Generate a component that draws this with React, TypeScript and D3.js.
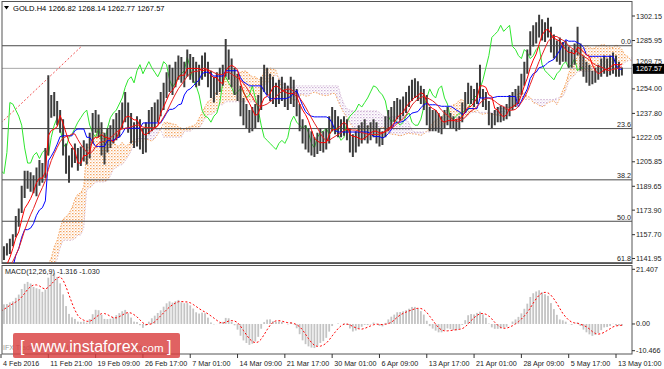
import React from "react";
import * as d3 from "d3";

const W = 664;
const H = 369;

// ---- price data (each bar ~ 2 H4 bars) ----
const priorHighs = [1100,1101,1099,1104,1108,1110,1114,1122,1124,1122,1120,1126,1120,1118,1120,1118,1120,1122,1124,1128,1130,1130,1132,1130,1134,1146];
const priorLows = [1094,1095,1093,1096,1100,1104,1106,1110,1116,1114,1112,1114,1112,1110,1112,1108,1110,1112,1114,1118,1122,1122,1124,1122,1124,1130];
const priorCloses = [1097,1098,1096,1102,1106,1107,1112,1120,1118,1116,1118,1116,1115,1114,1116,1112,1116,1118,1120,1126,1128,1126,1128,1126,1132,1142];

const highs = [
  1146,1150,1152,1155,1158,1170,1175,1190,1200,1200,
  1199,1197,1202,1207,1205,1215,1263,1250,1252,1246,
  1240,1234,1218,1210,1215,1218,1215,1216,1220,1218,
  1225,1238,1240,1237,1232,1225,1228,1230,1234,1238,
  1240,1245,1252,1245,1238,1232,1236,1234,1228,1232,
  1240,1242,1245,1247,1252,1258,1265,1270,1268,1272,
  1276,1275,1272,1280,1277,1275,1272,1270,1276,1278,
  1272,1266,1262,1265,1268,1270,1287,1280,1274,1268,
  1264,1256,1248,1244,1240,1242,1244,1250,1262,1270,
  1268,1264,1262,1258,1260,1262,1258,1256,1262,1260,
  1254,1244,1234,1230,1228,1226,1222,1225,1228,1226,
  1228,1236,1242,1240,1236,1234,1236,1234,1228,1224,
  1226,1230,1232,1234,1230,1232,1234,1232,1228,1226,
  1236,1240,1242,1246,1248,1247,1249,1252,1256,1260,
  1261,1259,1256,1254,1250,1242,1240,1240,1238,1236,
  1240,1242,1238,1236,1234,1236,1245,1252,1258,1256,
  1254,1258,1270,1254,1252,1246,1238,1240,1242,1243,
  1242,1244,1250,1252,1254,1256,1264,1272,1280,1292,
  1296,1298,1303,1300,1298,1301,1295,1290,1286,1288,
  1285,1286,1282,1280,1284,1295,1284,1276,1272,1270,
  1266,1268,1270,1274,1276,1274,1276,1278,1276,1272,1268.14,
];
const lows = [
  1139,1141,1144,1145,1150,1156,1163,1172,1182,1188,
  1186,1185,1183,1190,1192,1195,1210,1235,1236,1230,
  1225,1210,1198,1192,1202,1205,1200,1203,1206,1204,
  1208,1218,1225,1222,1210,1204,1212,1215,1218,1220,
  1222,1228,1232,1225,1218,1215,1216,1214,1211,1212,
  1224,1226,1228,1232,1236,1240,1248,1252,1250,1255,
  1260,1258,1255,1262,1260,1258,1255,1256,1260,1262,
  1255,1248,1245,1250,1252,1256,1262,1260,1255,1250,
  1246,1236,1230,1228,1225,1226,1228,1232,1240,1252,
  1250,1246,1244,1242,1244,1246,1242,1240,1244,1242,
  1236,1226,1218,1214,1212,1210,1209,1211,1213,1212,
  1214,1218,1226,1224,1222,1222,1223,1220,1212,1209,
  1212,1216,1218,1220,1218,1220,1222,1218,1216,1217,
  1222,1226,1228,1232,1234,1233,1236,1238,1242,1246,
  1248,1246,1244,1240,1230,1226,1226,1226,1225,1224,
  1228,1230,1228,1228,1226,1227,1232,1238,1244,1244,
  1242,1244,1248,1242,1240,1230,1228,1230,1232,1232,
  1233,1234,1236,1240,1242,1244,1250,1256,1264,1276,
  1282,1284,1288,1286,1285,1288,1278,1274,1272,1270,
  1272,1272,1268,1268,1270,1276,1266,1262,1258,1256,
  1257,1258,1260,1262,1264,1262,1263,1264,1262,1262,1262.77,
];
const closes = [
  1143,1148,1147,1153,1156,1166,1172,1185,1194,1195,
  1192,1190,1196,1200,1198,1212,1245,1244,1240,1236,
  1230,1215,1205,1205,1210,1212,1208,1212,1214,1210,
  1222,1230,1235,1228,1218,1215,1222,1224,1228,1232,
  1235,1238,1240,1230,1225,1222,1228,1220,1218,1228,
  1235,1238,1240,1244,1248,1255,1260,1262,1258,1266,
  1270,1264,1268,1272,1268,1265,1262,1266,1272,1270,
  1260,1255,1258,1262,1264,1266,1275,1268,1260,1256,
  1250,1240,1236,1235,1232,1236,1238,1245,1258,1262,
  1258,1255,1250,1252,1254,1252,1248,1250,1256,1248,
  1240,1230,1222,1220,1218,1216,1214,1218,1220,1218,
  1222,1232,1236,1232,1230,1228,1230,1225,1218,1215,
  1222,1225,1226,1228,1224,1226,1230,1224,1220,1222,
  1232,1236,1238,1240,1244,1242,1245,1248,1252,1256,
  1255,1252,1250,1246,1236,1232,1234,1232,1230,1232,
  1236,1238,1232,1230,1230,1234,1242,1248,1254,1250,
  1248,1254,1256,1248,1244,1235,1234,1236,1238,1238,
  1240,1240,1246,1248,1250,1254,1260,1268,1276,1288,
  1290,1292,1296,1292,1294,1296,1282,1280,1276,1274,
  1280,1278,1274,1276,1280,1282,1270,1266,1264,1262,
  1260,1264,1266,1270,1272,1268,1270,1274,1266,1268,1267.57,
];

const priceTicks = [1302.15, 1285.95, 1269.75, 1254.0, 1237.8, 1222.05, 1205.85, 1189.65, 1173.9, 1157.7, 1141.95];
const priceTickLabels = ["1302.15", "1285.95", "1269.75", "1254.00", "1237.80", "1222.05", "1205.85", "1189.65", "1173.90", "1157.70", "1141.95"];
const timeLabels = ["4 Feb 2016", "11 Feb 21:00", "19 Feb 09:00", "26 Feb 17:00", "7 Mar 01:00", "14 Mar 09:00", "21 Mar 17:00", "30 Mar 01:00", "6 Apr 09:00", "13 Apr 17:00", "21 Apr 01:00", "28 Apr 09:00", "5 May 17:00", "13 May 01:00"];
const timeLabelBars = [0, 16, 32, 48, 64, 80, 96, 112, 128, 144, 160, 176, 192, 208];
const fibLevels = [0, 23.6, 38.2, 50.0, 61.8];
const fibLabels = ["0.0", "23.6", "38.2", "50.0", "61.8"];
const fibHigh = 1282.5;
const fibLow = 1050.6;
const trendPoints = [{ bar: 0, price: 1231.5 }, { bar: 27, price: 1281.7 }];
const macdTicks = [21.407, 0, -10.466];
const macdTickLabels = ["21.407", "0.00", "-10.466"];
const lastPrice = 1267.57;

const FONT = "'Liberation Sans', Arial, sans-serif";

export default function App() {
  const n = highs.length;
  const P = priorHighs.length;
  const HA = [...priorHighs, ...highs];
  const LA = [...priorLows, ...lows];
  const CA = [...priorCloses, ...closes];
  const N = HA.length;
  const SHIFT = 13;

  const mid = (len: number, g: number) => {
    const s = Math.max(0, g - len + 1);
    const hi = d3.max(HA.slice(s, g + 1)) as number;
    const lo = d3.min(LA.slice(s, g + 1)) as number;
    return (hi + lo) / 2;
  };
  const tenkanAll = d3.range(N).map((g) => mid(5, g));
  const kijunAll = d3.range(N).map((g) => mid(13, g));
  const spanBAll = d3.range(N).map((g) => mid(26, g));
  const maAll = d3.range(N).map((g) => d3.mean(CA.slice(Math.max(0, g - 9), g + 1)) as number);

  // MACD
  const ema = (period: number) => {
    const k = 2 / (period + 1);
    const out: number[] = [];
    CA.forEach((c, i) => out.push(i === 0 ? c : out[i - 1] + k * (c - out[i - 1])));
    return out;
  };
  const e1 = ema(6);
  const e2 = ema(13);
  const macdAll = CA.map((_, i) => e1[i] - e2[i]);
  const sigAll = macdAll.map((_, i) => d3.mean(macdAll.slice(Math.max(0, i - 4), i + 1)) as number);

  const x = d3.scaleLinear().domain([0, 208]).range([1, 616]);
  const y = d3.scaleLinear().domain([1141.95, 1302.15]).range([258.5, 16]);
  const ym = d3.scaleLinear().domain([-10.466, 21.407]).range([350.7, 269.3]);

  const L = 2, R = 632, MT = 1.5, MB = 263.5, DT = 265.5, DB = 354;

  const idx = d3.range(n);
  const line = d3.line<[number, number]>().x((d) => d[0]).y((d) => d[1]);

  const tenkan = line(idx.map((j) => [x(j), y(tenkanAll[j + P])]));
  const kijun = line(idx.map((j) => [x(j), y(kijunAll[j + P])]));
  const ma = line(idx.map((j) => [x(j), y(maAll[j + P])]));
  const chikou = line(d3.range(SHIFT, n).map((k) => [x(k - SHIFT), y(closes[k])]));

  const cloud = d3.range(n + SHIFT).map((j) => {
    const g = j + P - SHIFT;
    return { j, a: (tenkanAll[g] + kijunAll[g]) / 2, b: spanBAll[g] };
  });
  const areaUp = d3
    .area<{ j: number; a: number; b: number }>()
    .defined((d) => d.a >= d.b)
    .x((d) => x(d.j))
    .y0((d) => y(d.b))
    .y1((d) => y(d.a));
  const areaDn = d3
    .area<{ j: number; a: number; b: number }>()
    .defined((d) => d.a < d.b)
    .x((d) => x(d.j))
    .y0((d) => y(d.b))
    .y1((d) => y(d.a));
  const spanA = line(cloud.map((d) => [x(d.j), y(d.a)]));
  const spanB = line(cloud.map((d) => [x(d.j), y(d.b)]));

  const macd = idx.map((j) => macdAll[j + P]);
  const sig = line(idx.map((j) => [x(j), ym(sigAll[j + P])]));

  return (
    <svg width={W} height={H} style={{ display: "block", position: "absolute", left: 0, top: 0, background: "#fff" }}>
      <defs>
        <clipPath id="mainClip">
          <rect x={L} y={MT} width={R - L} height={MB - MT} />
        </clipPath>
        <clipPath id="macdClip">
          <rect x={L} y={DT} width={R - L} height={DB - DT} />
        </clipPath>
        <pattern id="kumoUp" width="3" height="3" patternUnits="userSpaceOnUse">
          <rect x="0" y="0" width="1.5" height="1.2" fill="#f4a460" />
          <rect x="1.5" y="1.5" width="1.2" height="1" fill="#f8c090" />
        </pattern>
        <pattern id="kumoDn" width="3" height="3" patternUnits="userSpaceOnUse">
          <rect x="0" y="0" width="1.5" height="1.2" fill="#cdb0d6" />
          <rect x="1.5" y="1.5" width="1.2" height="1" fill="#e0cce6" />
        </pattern>
      </defs>
      <rect x={0} y={0} width={W} height={H} fill="#fff" />

      {/* main panel */}
      <g clipPath="url(#mainClip)">
        <path d={areaUp(cloud) || ""} fill="url(#kumoUp)" />
        <path d={areaDn(cloud) || ""} fill="url(#kumoDn)" />
        <path d={spanA || ""} fill="none" stroke="#f4a460" strokeWidth={1} strokeDasharray="1.5,1.5" />
        <path d={spanB || ""} fill="none" stroke="#d8bfd8" strokeWidth={1} strokeDasharray="1.5,1.5" />
        {fibLevels.map((lv, k) => {
          const p = fibHigh - (fibHigh - fibLow) * (lv / 100);
          return <line key={k} x1={L} x2={R} y1={y(p)} y2={y(p)} stroke="#4a4a4a" strokeWidth={1} />;
        })}
        <line x1={L} x2={R} y1={y(lastPrice)} y2={y(lastPrice)} stroke="#a8a8a8" strokeWidth={1} />
        <line
          x1={x(trendPoints[0].bar)}
          y1={y(trendPoints[0].price)}
          x2={x(trendPoints[1].bar)}
          y2={y(trendPoints[1].price)}
          stroke="#f05050"
          strokeWidth={1}
          strokeDasharray="2,2"
        />
        <path d={chikou || ""} fill="none" stroke="#2ee62e" strokeWidth={1} />
        {idx.map((j) => (
          <line key={j} x1={x(j)} x2={x(j)} y1={y(highs[j])} y2={y(lows[j])} stroke="#3c3c3c" strokeWidth={2} />
        ))}
        <path d={kijun || ""} fill="none" stroke="#0000ff" strokeWidth={1} />
        <path d={ma || ""} fill="none" stroke="#e82020" strokeWidth={1} />
        <path d={tenkan || ""} fill="none" stroke="#ff0000" strokeWidth={1} />
        {fibLevels.map((lv, k) => {
          const p = fibHigh - (fibHigh - fibLow) * (lv / 100);
          return (
            <text key={k} x={R - 1} y={y(p) - 1.5} textAnchor="end" fontFamily={FONT} fontSize={7.2} fill="#222">
              {fibLabels[k]}
            </text>
          );
        })}
      </g>

      {/* macd panel */}
      <g clipPath="url(#macdClip)">
        {idx.map((j) => (
          <rect
            key={j}
            x={x(j) - 0.9}
            width={1.8}
            y={Math.min(ym(0), ym(macd[j]))}
            height={Math.abs(ym(macd[j]) - ym(0))}
            fill="#c4c4c4"
          />
        ))}
        <path d={sig || ""} fill="none" stroke="#ff0000" strokeWidth={1} strokeDasharray="2,2" />
      </g>

      {/* frames */}
      <rect x={L} y={MT} width={R - L} height={MB - MT} fill="none" stroke="#555" strokeWidth={1} />
      <rect x={L} y={DT} width={R - L} height={DB - DT} fill="none" stroke="#555" strokeWidth={1} />

      {/* title */}
      <path d="M4,6 L9,6 L6.5,9.5 Z" fill="#000" />
      <text x={13} y={10.5} fontFamily={FONT} fontSize={7.6} fill="#000">
        GOLD.H4  1266.82 1268.14 1262.77 1267.57
      </text>
      <text x={5} y={274} fontFamily={FONT} fontSize={7.2} fill="#222">
        MACD(12,26,9) -1.316 -1.030
      </text>

      {/* price axis */}
      {priceTicks.map((t, k) => (
        <g key={k}>
          <line x1={R} x2={R + 3} y1={y(t)} y2={y(t)} stroke="#333" />
          {t !== 1269.75 ? (
            <text x={R + 4} y={y(t) + 2.5} fontFamily={FONT} fontSize={7.2} fill="#222">
              {priceTickLabels[k]}
            </text>
          ) : (
            <text x={R + 4} y={y(t) - 1} fontFamily={FONT} fontSize={7.2} fill="#222">
              {priceTickLabels[k]}
            </text>
          )}
        </g>
      ))}
      <rect x={R + 1} y={y(lastPrice) - 4.5} width={W - R - 1} height={10} fill="#000" />
      <text x={R + 4} y={y(lastPrice) + 3} fontFamily={FONT} fontSize={7.2} fill="#fff">
        {lastPrice.toFixed(2)}
      </text>
      {macdTicks.map((t, k) => (
        <g key={k}>
          <line x1={R} x2={R + 3} y1={ym(t)} y2={ym(t)} stroke="#333" />
          <text x={R + 4} y={ym(t) + 2.5} fontFamily={FONT} fontSize={7.2} fill="#222">
            {macdTickLabels[k]}
          </text>
        </g>
      ))}

      {/* time axis */}
      {timeLabelBars.map((b, k) => (
        <g key={k}>
          <line x1={x(b)} x2={x(b)} y1={DB} y2={DB + 4} stroke="#333" />
          <text x={x(b) + 2} y={365.5} fontFamily={FONT} fontSize={7.2} fill="#222">
            {timeLabels[k]}
          </text>
        </g>
      ))}

      {/* watermark */}
      <text x={3} y={350} fontFamily={FONT} fontSize={7} fill="#999">
        IFX Trader Quotes - InstaForex Dealer Terminal
      </text>
      <rect x={13} y={333} width={167} height={25} rx={2} fill="#d94040" fillOpacity={0.82} />
      <text x={20} y={351.5} fontFamily={FONT} fontSize={16} fill="#fff">
        [
      </text>
      <text x={31} y={351.5} fontFamily={FONT} fontSize={16} fill="#fff">
        www.instaforex
        <tspan fontSize={11.5}>.com</tspan>
      </text>
      <text x={167} y={351.5} fontFamily={FONT} fontSize={16} fill="#fff">
        ]
      </text>
    </svg>
  );
}
